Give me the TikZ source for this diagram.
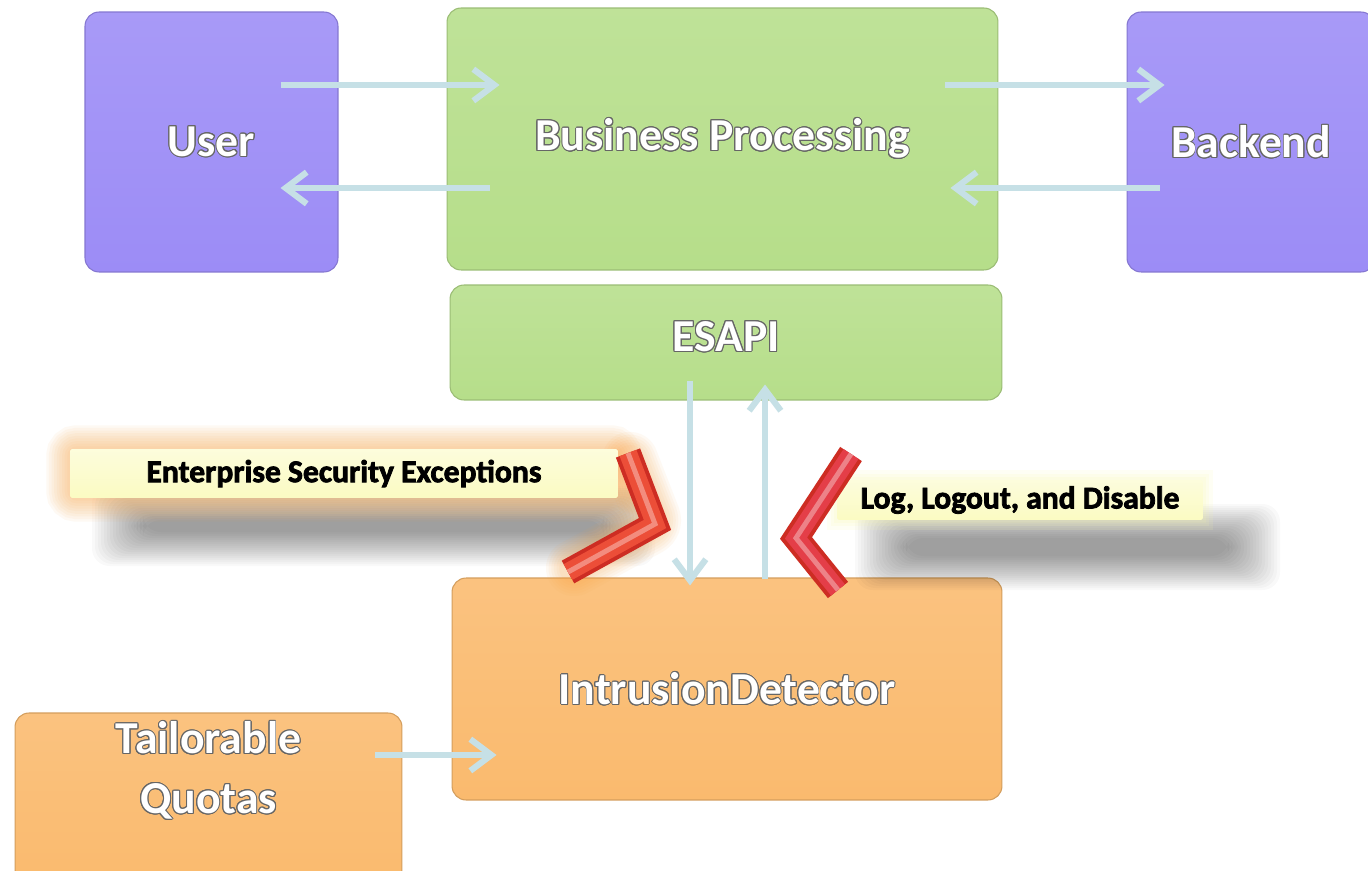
\documentclass[tikz,border=0pt]{standalone}
\usepackage{fontspec}
\setmainfont{Carlito}
\newfontfamily\heavyfont{Carlito}[BoldFeatures={FakeBold=2.5}]
\usepackage{contour}
\contourlength{0.55pt}
\usetikzlibrary{arrows.meta,calc}

\definecolor{userpurple}{RGB}{156,140,246}
\definecolor{bizgreen}{RGB}{182,222,138}
\definecolor{idorange}{RGB}{250,186,110}
\definecolor{flowarrow}{RGB}{198,224,230}
\definecolor{notebg}{RGB}{249,249,168}
\definecolor{chevred}{RGB}{236,78,56}
\definecolor{chevdark}{RGB}{205,45,35}
\definecolor{chevpink}{RGB}{228,62,72}
\definecolor{glow}{RGB}{250,160,60}

\newcommand\boxtext[1]{\contour{black!60}{#1}}

\begin{document}
\begin{tikzpicture}[x=0.02cm,y=-0.02cm,
  box/.style={rounded corners=0.28cm, draw=#1!85!black, line width=0.6pt,
    top color=#1!88!white, bottom color=#1, text=white,
    font=\bfseries\fontsize{26}{30}\selectfont, align=center},
  flow/.style={draw=flowarrow, line width=3.5pt,
    -{Straight Barb[length=12pt,width=18pt]}},
  note/.style={rounded corners=1pt, inner sep=0pt,
    top color=notebg!40!white, middle color=notebg, bottom color=notebg!70!white,
    font=\heavyfont\bfseries\fontsize{18}{20}\selectfont, text=black},
  softshade/.style={fill=black, opacity=0.022, rounded corners=10pt},
  haze/.style={draw=glow, opacity=0.06, rounded corners=4pt},
  chevron/.style={line join=miter, line cap=butt}
]
\useasboundingbox (0,0) rectangle (1368,871);
\clip (0,0) rectangle (1368,871);
\fill[white] (0,0) rectangle (1368,871);

% main flow boxes
\node[box=userpurple, minimum width=5.06cm, minimum height=5.2cm] (user) at (211.5,142) {\boxtext{User}};
\node[box=bizgreen, minimum width=11.02cm, minimum height=5.24cm] (biz) at (722.5,139) {\boxtext{Business Processing}};
\node[box=userpurple, minimum width=4.96cm, minimum height=5.2cm] (backend) at (1251,142) {\boxtext{Backend}};
\node[box=bizgreen, minimum width=11.04cm, minimum height=2.3cm, text depth=7pt] (esapi) at (726,342.5) {\boxtext{ESAPI}};
\node[box=idorange, minimum width=11cm, minimum height=4.44cm] (intr) at (727,689) {\boxtext{IntrusionDetector}};
\node[box=idorange, minimum width=7.74cm, minimum height=3.4cm] (tq) at (208.5,798) {};
\node[text=white, font=\bfseries\fontsize{26}{34}\selectfont, align=center] (tqtext) at (208.5,771)
  {\boxtext{Tailorable}\\\boxtext{Quotas}};

% connectors
\draw[flow] ($(user.east)+(-58,-57)$) -- ($(biz.west)+(53,-54)$);
\draw[flow] ($(biz.west)+(43,49)$) -- ($(user.east)+(-58,46)$);
\draw[flow] ($(biz.east)+(-53,-54)$) -- ($(backend.west)+(38,-57)$);
\draw[flow] ($(backend.west)+(33,46)$) -- ($(biz.east)+(-48,49)$);
\draw[flow] ($(esapi.south)+(-36,-20)$) -- ($(intr.north)+(-37,8)$);
\draw[flow] ($(intr.north)+(38,2)$) -- ($(esapi.south)+(39,-16)$);
\draw[flow] ($(tq.east)+(-27,-43)$) -- ($(intr.west)+(45,66)$);

% soft drop shadows under the two notes
\foreach \i in {0,...,17} {
  \fill[softshade] (92+\i*3,486+\i*2) rectangle (655-\i*3,566-\i*2);
  \fill[softshade] (855+\i*3,504+\i*2) rectangle (1280-\i*3,590-\i*2);
}

% orange haze round the first note and its chevron
\foreach \w in {3,6,...,27} {
  \draw[haze, line width=\w pt] (70,449) rectangle (618,498);
}
\foreach \w in {3,6,...,18} {
  \draw[haze, line width=\w pt+14pt, line join=round, line cap=round]
    (630,460) -- (655,524) -- (574,568);
}
\foreach \w in {3,7,11} {
  \draw[draw=notebg, opacity=0.12, line width=\w pt] (837,480) rectangle (1203,520);
}

% notes
\node[note, minimum width=10.96cm, minimum height=0.98cm] (exc) at (344,473.5) {Enterprise Security Exceptions};
\node[note, minimum width=7.32cm, minimum height=0.8cm] (logn) at (1020,500) {Log, Logout, and Disable};

% red chevrons
\foreach \w/\c in {26/chevdark, 18/chevred, 5/chevred!65!white} {
  \draw[chevron, draw=\c, line width=\w*0.567pt] (628,453) -- (655,524) -- (568,572);
}
\foreach \w/\c in {26/chevdark, 18/chevpink, 5/chevpink!65!white} {
  \draw[chevron, draw=\c, line width=\w*0.567pt] (851,454) -- (796,538) -- (838,590);
}
\end{tikzpicture}
\end{document}
